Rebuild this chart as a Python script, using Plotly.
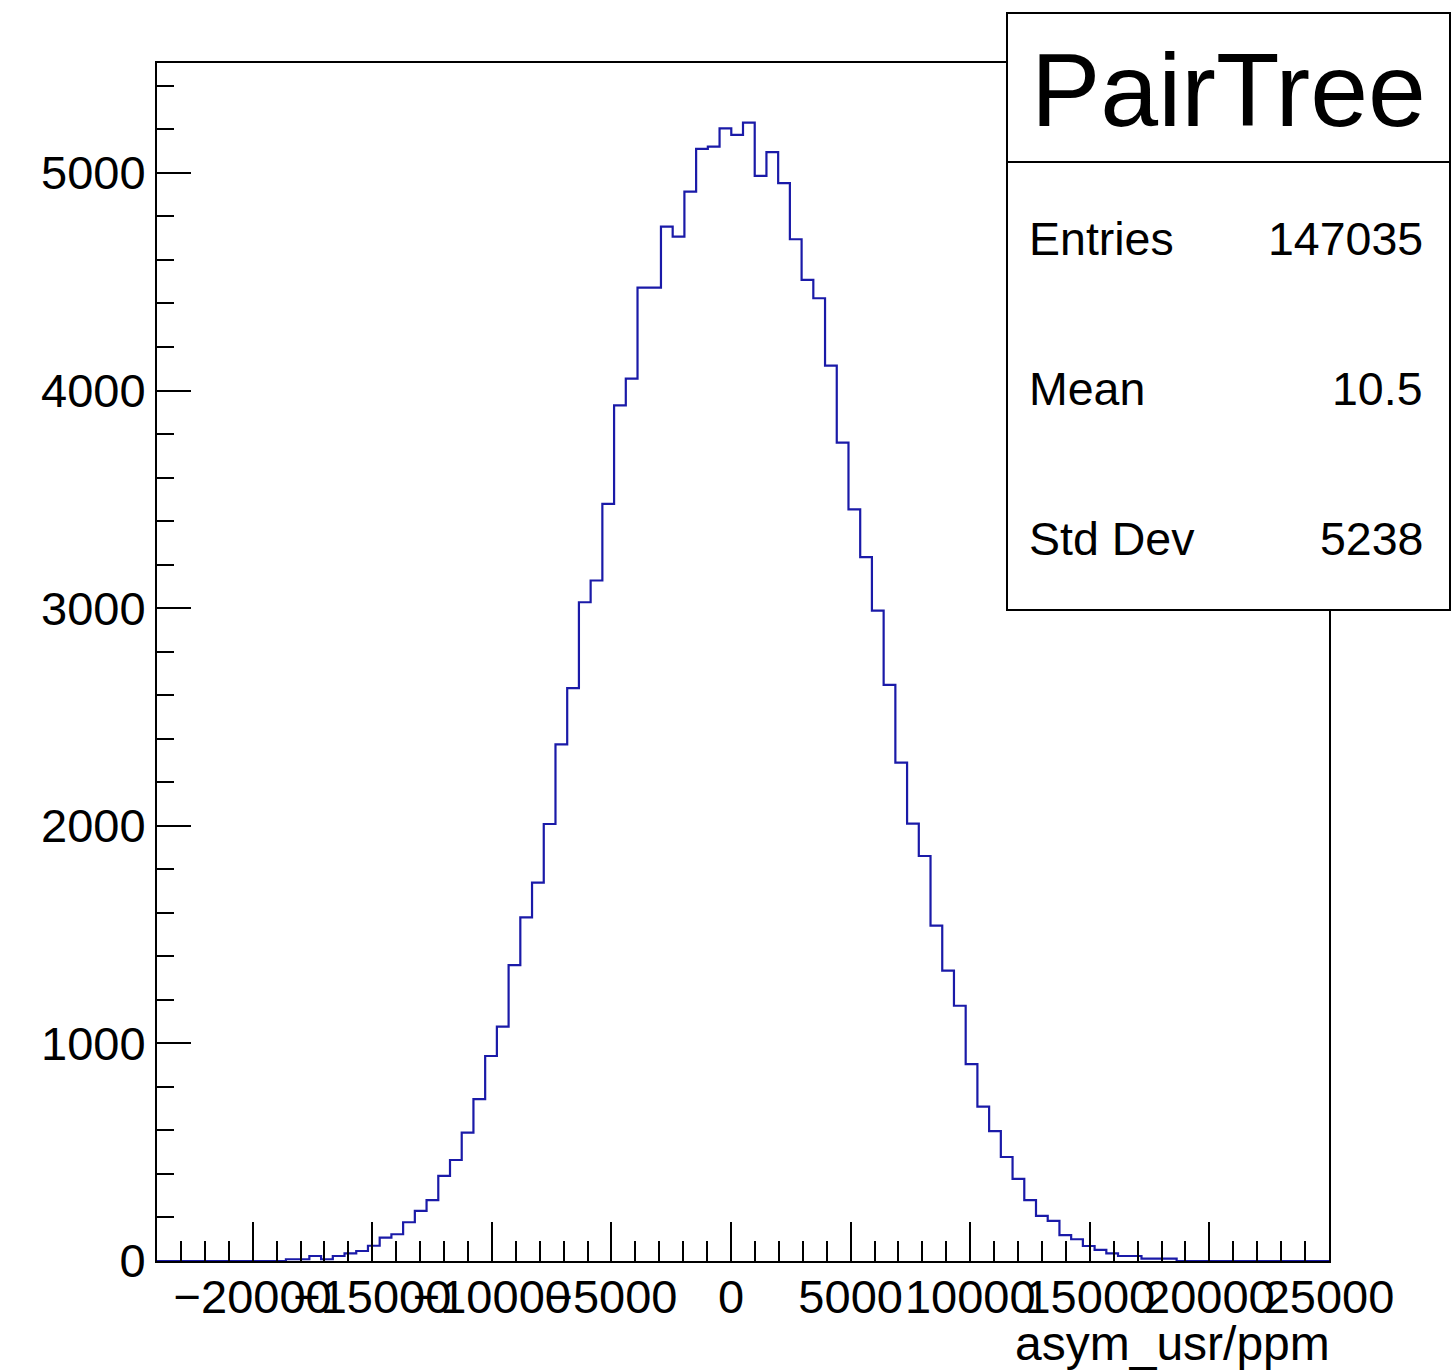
import plotly.graph_objects as go

# ---- data ----
x_min = -24000
x_max = 25000
n_bins = 100
bin_width = (x_max - x_min) / n_bins

# bin contents for the 100 bins (bin 0 .. bin 99)
counts = (
    [0] * 11 +
    [8, 8, 23, 8, 23, 35, 46, 70, 107, 123, 178, 230, 280, 391, 464, 590, 744] +
    [942, 1077, 1360, 1579, 1739, 2008, 2374, 2632, 3027, 3127, 3479, 3932, 4055] +
    [4473, 4473, 4753, 4707, 4914, 5110, 5121, 5205, 5175, 5231, 4986, 5095, 4953,
     4695, 4508, 4424, 4114] +
    [3761, 3454, 3234, 2989, 2647, 2290, 2010, 1861, 1541, 1334, 1173, 905] +
    [709, 597, 478, 377, 280, 207, 184, 119, 100, 69, 51, 35, 23, 23, 11, 11, 11] +
    [0] * 13
)

x_tick_vals = [-20000, -15000, -10000, -5000, 0, 5000, 10000, 15000, 20000, 25000]
x_tick_text = ["\u221220000", "\u221215000", "\u221210000", "\u22125000", "0",
               "5000", "10000", "15000", "20000", "25000"]
y_tick_vals = [0, 1000, 2000, 3000, 4000, 5000]
y_tick_text = ["0", "1000", "2000", "3000", "4000", "5000"]

stats_title = "PairTree"
stats_labels = ["Entries", "Mean", "Std Dev"]
stats_values = ["147035", "10.5", "5238"]
x_title = "asym_usr/ppm"

y_top = 5505

# ---- figure ----
edges = [x_min + i * bin_width for i in range(n_bins + 1)]
ys = counts + [counts[-1]]

FONT = "Liberation Sans, Arial, Helvetica, sans-serif"

fig = go.Figure()
fig.add_trace(go.Scatter(
    x=edges, y=ys, mode="lines", line=dict(shape="hv", color="#1a1aa8", width=2.2),
    hoverinfo="skip", showlegend=False,
))

W, H = 1452, 1371
L, R, T, B = 157, 1329, 63, 1261

def px(xp):
    return (xp - L) / (R - L)

def py(yp):
    return (B - yp) / (B - T)

fig.update_layout(
    width=W, height=H,
    margin=dict(l=L, r=W - R, t=T, b=H - B, pad=0),
    paper_bgcolor="white", plot_bgcolor="white",
    font=dict(family=FONT, size=47, color="black"),
    showlegend=False,
)

fig.update_xaxes(
    range=[x_min, x_max], showgrid=False, zeroline=False,
    showline=True, linecolor="black", linewidth=2, mirror=True,
    tickmode="array", tickvals=x_tick_vals, ticktext=x_tick_text, tickangle=0,
    ticks="inside", ticklen=39, tickwidth=2, tickcolor="black",
    minor=dict(ticks="inside", ticklen=20, tickwidth=2, tickcolor="black",
               tickmode="linear", tick0=0, dtick=1000, showgrid=False),
    tickfont=dict(family=FONT, size=47, color="black"),
    ticklabelstandoff=-6,
)
fig.update_yaxes(
    range=[0, y_top], showgrid=False, zeroline=False,
    showline=True, linecolor="black", linewidth=2, mirror=True,
    tickmode="array", tickvals=y_tick_vals, ticktext=y_tick_text,
    ticks="inside", ticklen=34, tickwidth=2, tickcolor="black",
    minor=dict(ticks="inside", ticklen=17, tickwidth=2, tickcolor="black",
               tickmode="linear", tick0=0, dtick=200, showgrid=False),
    tickfont=dict(family=FONT, size=47, color="black"),
    ticklabelstandoff=0,
)

# stats box
bx0, bx1, by0, by1, bdiv = 1007, 1450, 13, 610, 162
fig.add_shape(type="rect", xref="paper", yref="paper",
              x0=px(bx0), x1=px(bx1), y0=py(by1), y1=py(by0),
              line=dict(color="black", width=2), fillcolor="white", layer="above")
fig.add_shape(type="line", xref="paper", yref="paper",
              x0=px(bx0), x1=px(bx1), y0=py(bdiv), y1=py(bdiv),
              line=dict(color="black", width=2), layer="above")

fig.add_annotation(xref="paper", yref="paper", x=px((bx0 + bx1) / 2), y=py(90),
                   text=stats_title, showarrow=False, xanchor="center", yanchor="middle",
                   font=dict(family=FONT, size=104, color="black"))
row_y = [239, 389, 539]
for lab, val, yy in zip(stats_labels, stats_values, row_y):
    fig.add_annotation(xref="paper", yref="paper", x=px(1027), y=py(yy), text=lab,
                       showarrow=False, xanchor="left", yanchor="middle",
                       font=dict(family=FONT, size=46.5, color="black"))
    fig.add_annotation(xref="paper", yref="paper", x=px(1425), y=py(yy), text=val,
                       showarrow=False, xanchor="right", yanchor="middle",
                       font=dict(family=FONT, size=46.5, color="black"))

# x-axis title (right aligned, ROOT style)
fig.add_annotation(xref="paper", yref="paper", x=1, y=py(1343), text=x_title,
                   showarrow=False, xanchor="right", yanchor="middle", xshift=3,
                   font=dict(family=FONT, size=48, color="black"))

fig.write_html("out.html", post_script="document.body.style.margin='0';",
               config={"displayModeBar": False})
